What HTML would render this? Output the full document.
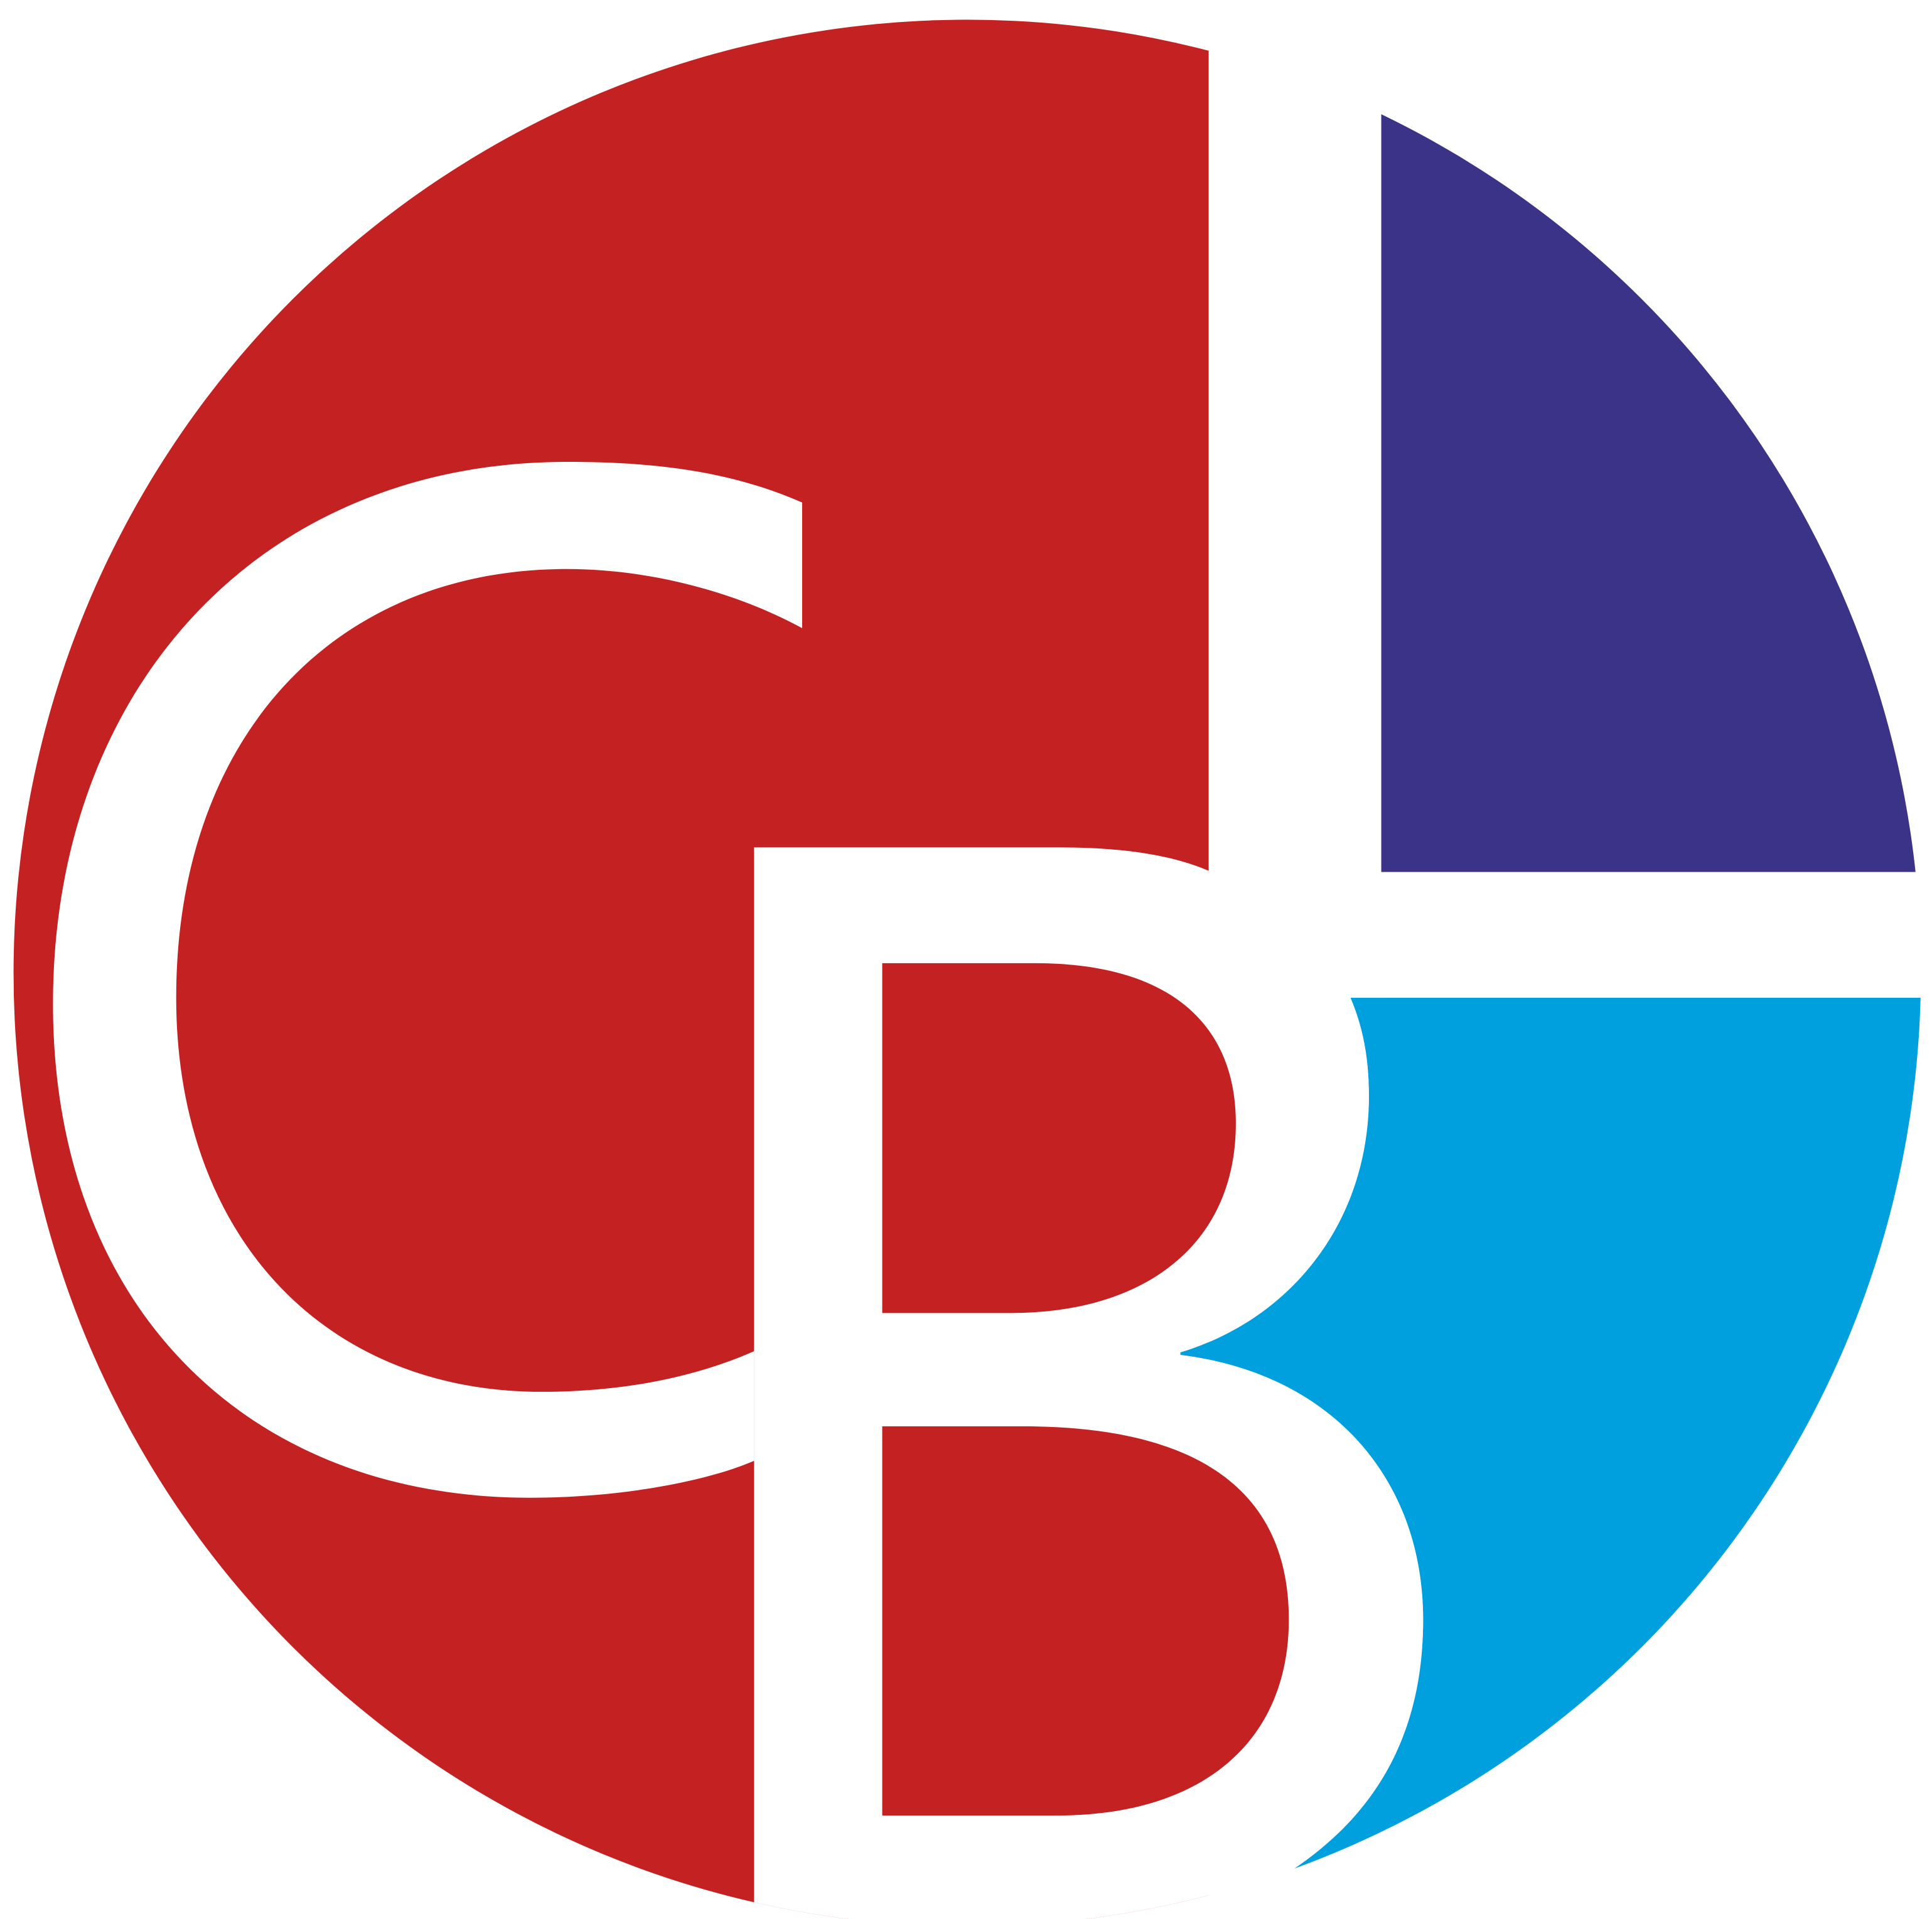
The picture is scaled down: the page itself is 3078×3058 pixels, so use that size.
<!DOCTYPE html>
<html>
<head>
<meta charset="utf-8">
<style>
  html, body { margin: 0; padding: 0; background: #ffffff; }
  svg { display: block; }
</style>
</head>
<body>
<svg width="3078" height="3058" viewBox="0 0 1568 1558" preserveAspectRatio="none" xmlns="http://www.w3.org/2000/svg">
  <defs>
    <clipPath id="circ">
      <circle cx="785" cy="790" r="774"/>
    </clipPath>
  </defs>
  <rect x="0" y="0" width="1568" height="1558" fill="#ffffff"/>
  <g clip-path="url(#circ)">
    <rect x="0" y="0" width="981" height="1600" fill="#c42222"/>
    <rect x="1121" y="0" width="460" height="708" fill="#3a3388"/>
    <path fill="#00a0de"
      d="M1096,810 L1600,810 L1600,1600 L1000,1600 L1046,1520 C1115,1475 1155,1410 1155,1315 C1155,1200 1080,1115 958,1100 L958,1098 C1050,1070 1111,990 1111,890 C1111,865 1108,838 1096,810 Z"/>
    <rect x="981" y="0" width="140" height="810" fill="#ffffff"/>
    <rect x="981" y="708" width="620" height="102" fill="#ffffff"/>
    <path fill="#ffffff"
      d="M612,688 L860,688 C925,688 960,698 981,707 L1096,810 C1108,838 1111,865 1111,890 C1111,990 1050,1070 958,1098 L958,1100 C1080,1115 1155,1200 1155,1315 C1155,1410 1115,1475 1046,1520 L1000,1600 L612,1600 Z"/>
    <path fill="#c42222"
      d="M716,782 L840,782 C950,782 1003,832 1003,912 C1003,1010 930,1066 820,1066 L716,1066 Z"/>
    <path fill="#c42222"
      d="M716,1158 L830,1158 C975,1158 1046,1212 1046,1315 C1046,1412 978,1474 858,1474 L716,1474 Z"/>
    <path fill="#ffffff"
      d="M651,408 C590,381 525,375 460,375 C210,375 43,560 43,815 C43,1060 200,1216 430,1216 C500,1216 570,1204 612,1186 L612,1097 C560,1120 500,1130 440,1130 C260,1130 143,1000 143,810 C143,600 270,462 460,462 C530,462 600,482 651,510 Z"/>
  </g>
</svg>
</body>
</html>
